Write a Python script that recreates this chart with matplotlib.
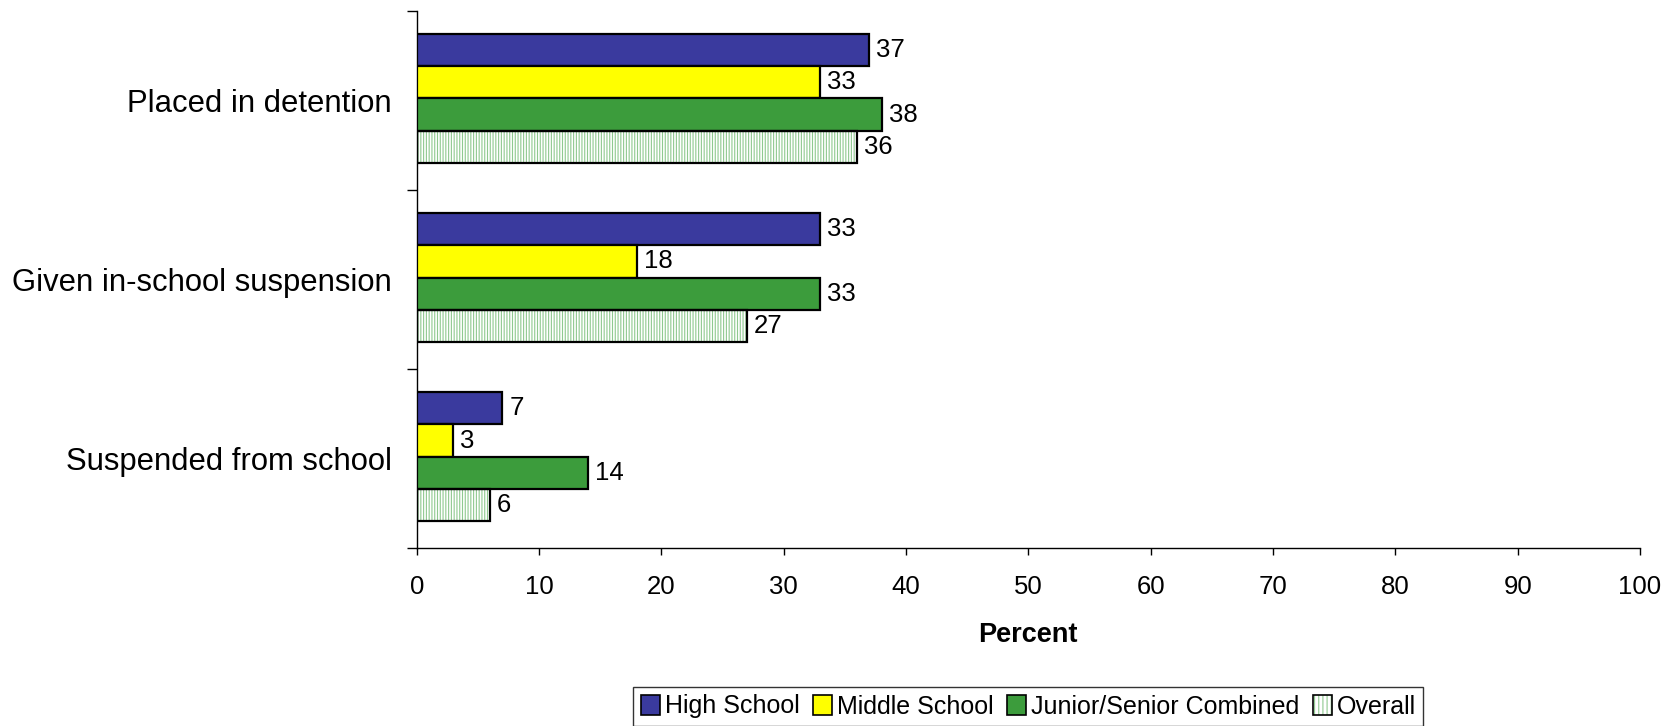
import matplotlib
matplotlib.use("Agg")
import matplotlib.pyplot as plt
from matplotlib.patches import Patch
from matplotlib.legend_handler import HandlerTuple
import numpy as np

plt.rcParams['font.family'] = ['Liberation Sans', 'DejaVu Sans']
plt.rcParams['hatch.linewidth'] = 0.8

categories = ["Placed in detention", "Given in-school suspension", "Suspended from school"]
series_names = ["High School", "Middle School", "Junior/Senior Combined", "Overall"]
high_school = [37, 33, 7]
middle_school = [33, 18, 3]
junior_senior = [38, 33, 14]
overall = [36, 27, 6]
x_ticks = list(range(0, 101, 10))

series_values = [high_school, middle_school, junior_senior, overall]
face_colors = ["#3a3a9e", "#ffff00", "#3c9c3c", "white"]
hatch_green = "#8fc98f"

fig = plt.figure(figsize=(16.75, 7.26), dpi=100)
ax = fig.add_axes([0.2488, 0.2448, 0.9791 - 0.2488, 0.985 - 0.2448])

y = np.arange(len(categories))
bh = 0.18
offsets = (np.arange(4) - 1.5) * bh - 0.011

for i, (name, vals) in enumerate(zip(series_names, series_values)):
    pos = y + offsets[i]
    if name == "Overall":
        ax.barh(pos, vals, height=bh, color="white", edgecolor=hatch_green,
                hatch="||||||", linewidth=0, zorder=2)
        ax.barh(pos, vals, height=bh, fill=False, edgecolor="black",
                linewidth=1.6, zorder=3)
    else:
        ax.barh(pos, vals, height=bh, color=face_colors[i],
                edgecolor="black", linewidth=1.6, zorder=3)
    for v, p in zip(vals, pos):
        ax.annotate(str(v), (v, p), xytext=(5, 0), textcoords="offset points",
                    ha="left", va="center", fontsize=18.5)

ax.set_ylim(len(categories) - 0.5, -0.5)
ax.set_xlim(0, 100)
ax.set_xticks(x_ticks)
ax.set_xticklabels([str(t) for t in x_ticks], fontsize=18.5)

ax.set_yticks(np.arange(-0.5, len(categories), 1.0))
ax.set_yticklabels([])
ax.set_yticks(y, minor=True)
ax.set_yticklabels(categories, minor=True, fontsize=22.3)
ax.tick_params(axis="y", which="major", direction="out", length=7.5, width=1)
ax.tick_params(axis="y", which="minor", length=0, pad=18)
ax.tick_params(axis="x", direction="out", length=5, width=1, pad=14)

ax.spines["top"].set_visible(False)
ax.spines["right"].set_visible(False)
for s in ["left", "bottom"]:
    ax.spines[s].set_linewidth(1)

ax.set_xlabel("Percent", fontsize=19.5, fontweight="bold", labelpad=17)

handles = []
for i, name in enumerate(series_names):
    if name == "Overall":
        h1 = Patch(facecolor="white", edgecolor=hatch_green, hatch="||||", linewidth=0)
        h2 = Patch(fill=False, edgecolor="black", linewidth=1.2)
        handles.append((h1, h2))
    else:
        handles.append(Patch(facecolor=face_colors[i], edgecolor="black", linewidth=1.2))

leg = fig.legend(handles, series_names, loc="lower center",
                 bbox_to_anchor=(0.614, 0.0), ncol=4, fontsize=18,
                 frameon=True, fancybox=False, edgecolor="black",
                 handlelength=0.75, handleheight=0.85, handletextpad=0.2,
                 columnspacing=0.55, borderpad=0.3, borderaxespad=0.0,
                 handler_map={tuple: HandlerTuple(ndivide=1, pad=0)})
leg.get_frame().set_linewidth(1)

fig.savefig("out.png", dpi=100)
